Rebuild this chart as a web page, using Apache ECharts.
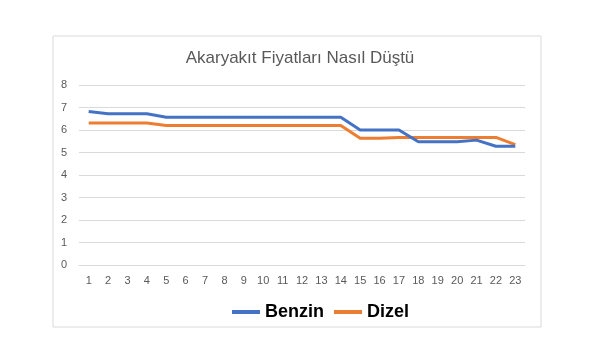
<!DOCTYPE html>
<html>
<head>
<meta charset="utf-8">
<script src="https://cdn.jsdelivr.net/npm/echarts@6/dist/echarts.min.js"></script>
<style>html,body{margin:0;padding:0;background:#fff;}#c{width:600px;height:358px;}</style>
</head>
<body>
<div id="c"></div>
<script>
const titleText = 'Akaryakıt Fiyatları Nasıl Düştü';
const categories = ['1','2','3','4','5','6','7','8','9','10','11','12','13','14','15','16','17','18','19','20','21','22','23'];
const benzin = [6.82,6.72,6.72,6.72,6.57,6.57,6.57,6.57,6.57,6.57,6.57,6.57,6.57,6.57,6.0,6.0,6.0,5.48,5.48,5.48,5.55,5.28,5.28];
const dizel = [6.31,6.31,6.31,6.31,6.2,6.2,6.2,6.2,6.2,6.2,6.2,6.2,6.2,6.2,5.63,5.63,5.67,5.67,5.67,5.67,5.67,5.67,5.35];
const seriesNames = ['Benzin','Dizel'];
const colors = ['#4472C4','#ED7D31'];

const chart = echarts.init(document.getElementById('c'), null, {renderer:'canvas'});
chart.setOption({
  animation:false,
  backgroundColor:'#fff',
  color:colors,
  graphic:[{type:'rect',shape:{x:53,y:36,width:488,height:291},style:{fill:'none',stroke:'#d9d9d9',lineWidth:1},silent:true}],
  title:{text:titleText,left:'center',top:45,textStyle:{fontFamily:'Liberation Sans',fontSize:17,fontWeight:'normal',color:'#595959'}},
  grid:{left:79,right:75,top:85,bottom:93,containLabel:false},
  legend:{data:seriesNames,bottom:32,left:227,itemWidth:28,itemHeight:4,itemGap:10,icon:'rect',
    textStyle:{fontFamily:'Liberation Sans',fontSize:18,fontWeight:'bold',color:'#000'}},
  xAxis:{type:'category',data:categories,boundaryGap:true,
    axisLine:{show:true,lineStyle:{color:'#d9d9d9'}},axisTick:{show:false},
    axisLabel:{color:'#595959',fontSize:11,fontFamily:'Liberation Sans',margin:10,interval:0}},
  yAxis:{type:'value',min:0,max:8,interval:1,
    axisLine:{show:false},axisTick:{show:false},
    splitLine:{lineStyle:{color:'#d9d9d9'}},
    axisLabel:{color:'#595959',fontSize:11,fontFamily:'Liberation Sans',margin:12}},
  series:[
    {name:seriesNames[0],type:'line',data:benzin,symbol:'none',lineStyle:{width:3,color:colors[0]},z:3},
    {name:seriesNames[1],type:'line',data:dizel,symbol:'none',lineStyle:{width:3,color:colors[1]},z:2}
  ]
});
</script>
</body>
</html>
